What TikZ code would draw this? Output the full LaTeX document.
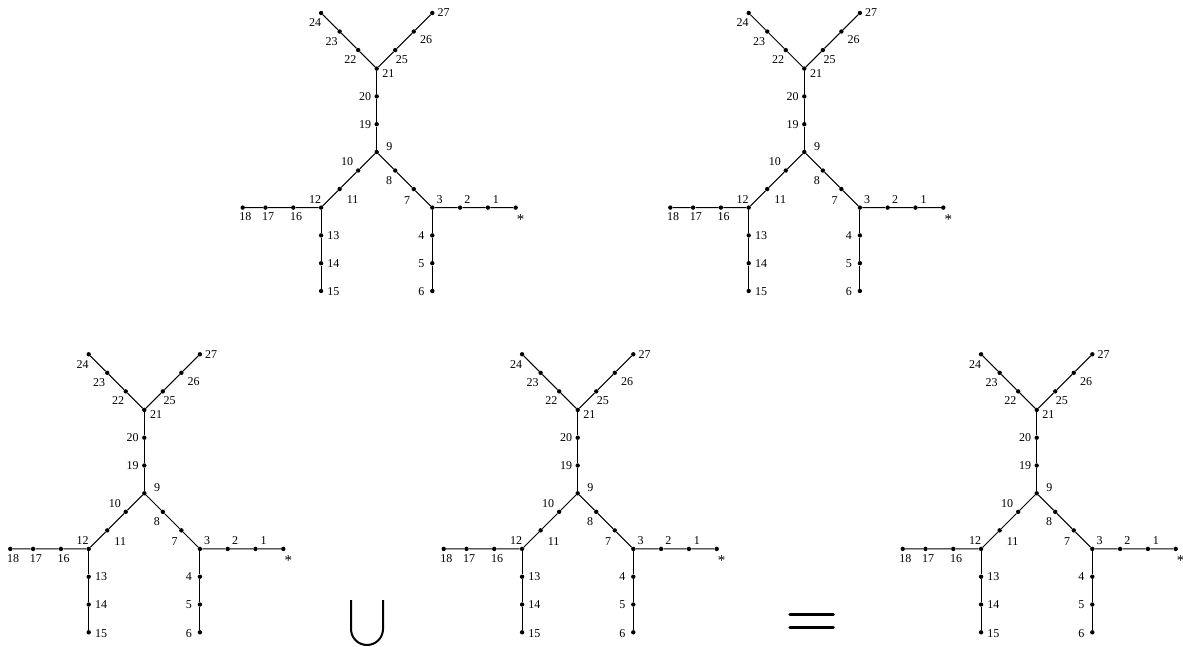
\documentclass[tikz,border=0pt]{standalone}
\usepackage{fontspec}
\setmainfont{Liberation Serif}
\tikzset{
  dot/.style={circle,fill=black,inner sep=0pt,minimum size=4.4pt},
  lbl/.style={font=\fontsize{12}{14}\selectfont,inner sep=0pt},
  edge/.style={line width=1pt},
  sym/.style={line width=2pt},
  eqsym/.style={line width=3.3pt,line cap=round},
  pics/tree/.style={code={
    \foreach \n/\x/\y/\dx/\dy/\t in {
      s/5/-2/5/-11.5/{\fontsize{15}{15}\selectfont*},
      1/4/-2/8/8/1, 2/3/-2/7.3/8/2, 3/2/-2/7.3/8/3,
      4/2/-3/-11/0/4, 5/2/-4/-11/0/5, 6/2/-5/-11/-1/6,
      7/1.3333/-1.3333/-6.7/-11.3/7, 8/0.6667/-0.6667/-6/-9.7/8,
      9/0/0/12.7/5.3/9,
      10/-0.6667/-0.6667/-11/8.7/10, 11/-1.3333/-1.3333/13/-10.7/11, 12/-2/-2/-6/8/12,
      13/-2/-3/12.3/0/13, 14/-2/-4/12.3/0/14, 15/-2/-5/12.3/-1/15,
      16/-3/-2/2.7/-9.3/16, 17/-4/-2/2.7/-9.3/17, 18/-4.82/-2/2.7/-9.3/18,
      19/0/1/-11.7/0/19, 20/0/2/-11.7/0/20, 21/0/3/11.7/-5/21,
      22/-0.6667/3.6667/-7.7/-9.3/22, 23/-1.3333/4.3333/-8/-10/23, 24/-2/5/-6/-10/24,
      25/0.6667/3.6667/6.7/-9.3/25, 26/1.3333/4.3333/12.3/-8.3/26, 27/2/5/11.3/0/27}{
      \node[dot,label={[lbl,xshift=\dx pt,yshift=\dy pt]center:\t}] (-\n) at ({\x*27.8},{\y*27.8}) {};
    }
    \draw[edge] (-s) -- (-1) -- (-2) -- (-3) -- (-7) -- (-8) -- (-9);
    \draw[edge] (-3) -- (-4) -- (-5) -- (-6);
    \draw[edge] (-9) -- (-10) -- (-11) -- (-12) -- (-16) -- (-17) -- (-18);
    \draw[edge] (-12) -- (-13) -- (-14) -- (-15);
    \draw[edge] (-9) -- (-19) -- (-20) -- (-21);
    \draw[edge] (-21) -- (-22) -- (-23) -- (-24);
    \draw[edge] (-21) -- (-25) -- (-26) -- (-27);
  }}
}
\begin{document}
\begin{tikzpicture}[x=1pt,y=1pt]
\useasboundingbox (0,0) rectangle (1183,-647);
\fill[white] (0,0) rectangle (1183,-647);
\pic (TL) at (376.7,-152) {tree};
\pic (TR) at (804.3,-152) {tree};
\pic (BL) at (144.3,-493.3) {tree};
\pic (BM) at (577.7,-493.3) {tree};
\pic (BR) at (1036.7,-493.3) {tree};
\coordinate (ua) at (351,-600);
\coordinate (ub) at (383,-600);
\draw[sym] (ua) -- ++(0,-29) arc (180:360:16) -- (ub);
\coordinate (ea) at (790,-614.7);
\coordinate (eb) at (833.3,-614.7);
\coordinate (ec) at (790,-627.7);
\coordinate (ed) at (833.3,-627.7);
\draw[eqsym] (ea) -- (eb);
\draw[eqsym] (ec) -- (ed);
\end{tikzpicture}
\end{document}
